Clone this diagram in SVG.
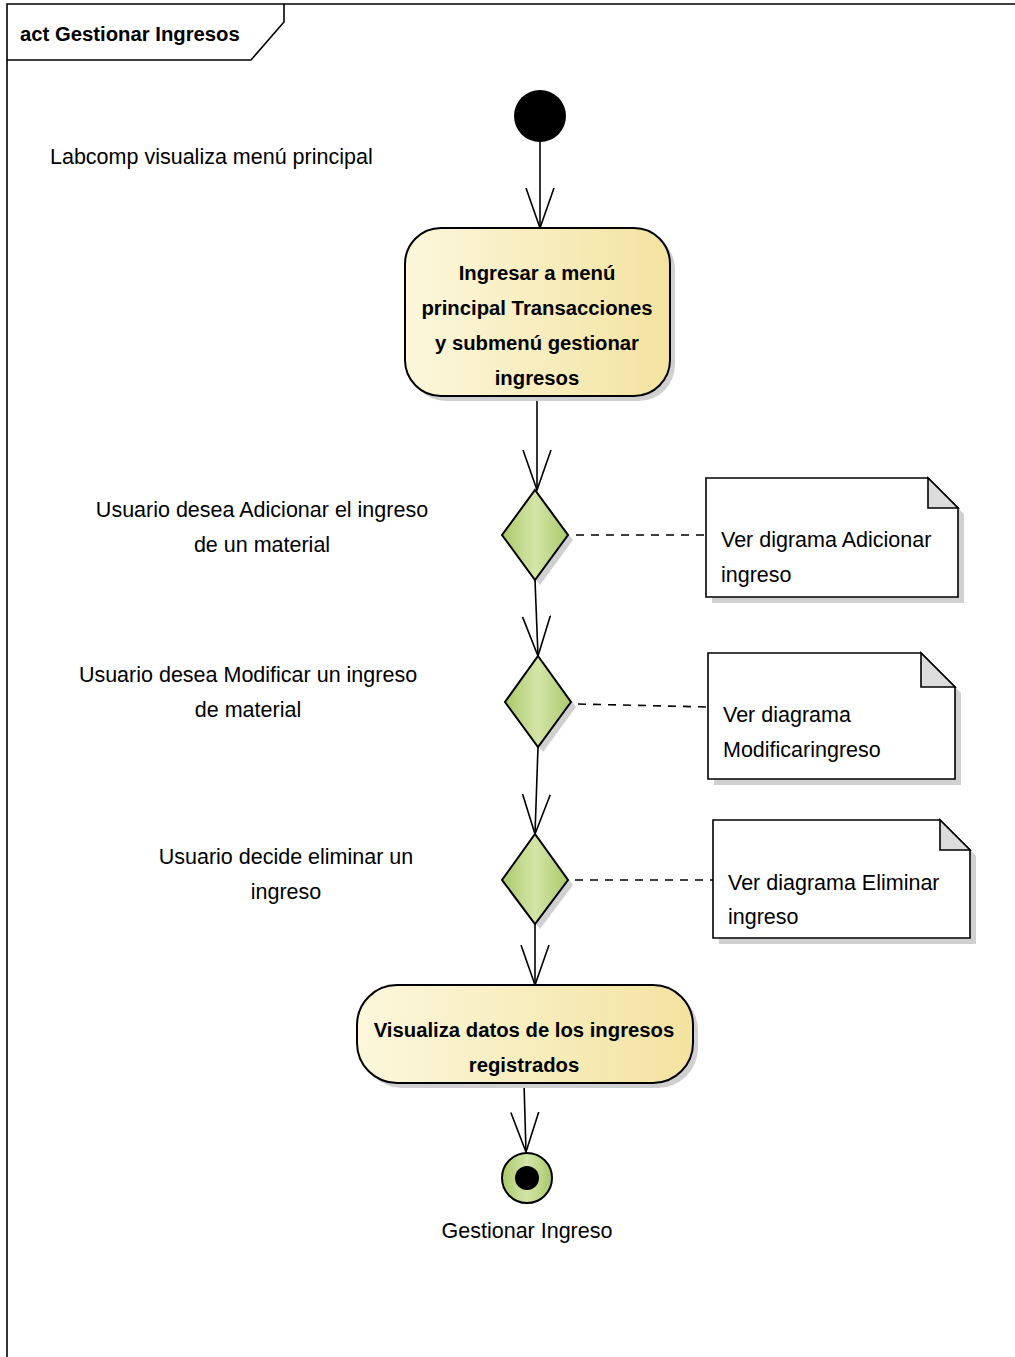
<svg xmlns="http://www.w3.org/2000/svg" width="1015" height="1357" viewBox="0 0 1015 1357">
<style>
text{font-family:"Liberation Sans",Arial,sans-serif;font-size:21.5px;fill:#000}
.b{font-weight:bold;font-size:20.3px}
.c{text-anchor:middle}
.ln{stroke:#000;stroke-width:1.6;fill:none}
.dash{stroke:#000;stroke-width:1.6;fill:none;stroke-dasharray:8,7}
.act{fill:url(#gy);stroke:#000;stroke-width:2}
.dia{fill:url(#gg);stroke:#000;stroke-width:2}
.note{fill:#fff;stroke:#000;stroke-width:1.6}
.ear{fill:#dcdcdc;stroke:#000;stroke-width:1.6}
.sh{fill:#d0d0d0}
</style>
<defs>
<linearGradient id="gy" x1="0" y1="0" x2="1" y2="0">
<stop offset="0" stop-color="#fcf7dc"/><stop offset="1" stop-color="#f3e3a0"/>
</linearGradient>
<linearGradient id="gg" x1="0" y1="0" x2="1" y2="0">
<stop offset="0" stop-color="#a9c96a"/><stop offset="0.5" stop-color="#d4e5a8"/><stop offset="1" stop-color="#a9c96a"/>
</linearGradient>
<marker id="ar" markerWidth="42" markerHeight="32" refX="40" refY="15" orient="auto" markerUnits="userSpaceOnUse">
<path d="M0,1 L40,15 L0,29" fill="none" stroke="#000" stroke-width="1.6"/>
</marker>
</defs>

<g id="frame">
<path d="M7,1357 L7,4 L1015,4" class="ln"/>
<path d="M7,60 L251,60 L284,22 L284,4" class="ln"/>
<text x="20" y="41" class="b">act Gestionar Ingresos</text>
</g>

<g id="connectors">
<line x1="540" y1="142" x2="540" y2="228" class="ln" marker-end="url(#ar)"/>
<line x1="537" y1="396" x2="537" y2="490" class="ln" marker-end="url(#ar)"/>
<line x1="535" y1="580" x2="538" y2="656" class="ln" marker-end="url(#ar)"/>
<line x1="538" y1="747" x2="535" y2="834" class="ln" marker-end="url(#ar)"/>
<line x1="535" y1="924" x2="535" y2="985" class="ln" marker-end="url(#ar)"/>
<line x1="524" y1="1083" x2="526" y2="1152" class="ln" marker-end="url(#ar)"/>
<line x1="576" y1="535" x2="706" y2="535" class="dash"/>
<line x1="578" y1="704" x2="708" y2="707" class="dash"/>
<line x1="575" y1="880" x2="713" y2="880" class="dash"/>
</g>

<g id="start">
<circle cx="540" cy="116" r="26" fill="#000"/>
<text x="50" y="164">Labcomp visualiza menú principal</text>
</g>

<g id="action1">
<rect x="410" y="233" width="265" height="168" rx="36" class="sh"/>
<rect x="405" y="228" width="265" height="168" rx="36" class="act"/>
<text x="537" y="280" class="b c">Ingresar a menú</text>
<text x="537" y="315" class="b c">principal Transacciones</text>
<text x="537" y="350" class="b c">y submenú gestionar</text>
<text x="537" y="385" class="b c">ingresos</text>
</g>

<g id="decision1">
<path d="M540,495 L573,540 L540,585 L507,540 Z" class="sh"/>
<path d="M535,490 L568,535 L535,580 L502,535 Z" class="dia"/>
<text x="262" y="517" class="c">Usuario desea Adicionar el ingreso</text>
<text x="262" y="552" class="c">de un material</text>
</g>

<g id="note1">
<path d="M712,484 L934,484 L964,514 L964,603 L712,603 Z" class="sh"/>
<path d="M706,478 L928,478 L958,508 L958,597 L706,597 Z" class="note"/>
<path d="M928,478 L928,508 L958,508 Z" class="ear"/>
<text x="721" y="547">Ver digrama Adicionar</text>
<text x="721" y="582">ingreso</text>
</g>

<g id="decision2">
<path d="M543,661 L576,707 L543,752 L510,707 Z" class="sh"/>
<path d="M538,656 L571,702 L538,747 L505,702 Z" class="dia"/>
<text x="248" y="682" class="c">Usuario desea Modificar un ingreso</text>
<text x="248" y="717" class="c">de material</text>
</g>

<g id="note2">
<path d="M714,659 L927,659 L961,693 L961,785 L714,785 Z" class="sh"/>
<path d="M708,653 L921,653 L955,687 L955,779 L708,779 Z" class="note"/>
<path d="M921,653 L921,687 L955,687 Z" class="ear"/>
<text x="723" y="722">Ver diagrama</text>
<text x="723" y="757">Modificaringreso</text>
</g>

<g id="decision3">
<path d="M540,839 L573,885 L540,929 L507,885 Z" class="sh"/>
<path d="M535,834 L568,880 L535,924 L502,880 Z" class="dia"/>
<text x="286" y="864" class="c">Usuario decide eliminar un</text>
<text x="286" y="899" class="c">ingreso</text>
</g>

<g id="note3">
<path d="M719,826 L946,826 L976,856 L976,944 L719,944 Z" class="sh"/>
<path d="M713,820 L940,820 L970,850 L970,938 L713,938 Z" class="note"/>
<path d="M940,820 L940,850 L970,850 Z" class="ear"/>
<text x="728" y="890">Ver diagrama Eliminar</text>
<text x="728" y="924">ingreso</text>
</g>

<g id="action2">
<rect x="362" y="990" width="336" height="98" rx="40" class="sh"/>
<rect x="357" y="985" width="336" height="98" rx="40" class="act"/>
<text x="524" y="1037" class="b c">Visualiza datos de los ingresos</text>
<text x="524" y="1072" class="b c">registrados</text>
</g>

<g id="final">
<circle cx="527" cy="1178" r="25" fill="url(#gg)" stroke="#000" stroke-width="2"/>
<circle cx="527" cy="1178" r="12" fill="#000"/>
<text x="527" y="1238" class="c">Gestionar Ingreso</text>
</g>
</svg>
